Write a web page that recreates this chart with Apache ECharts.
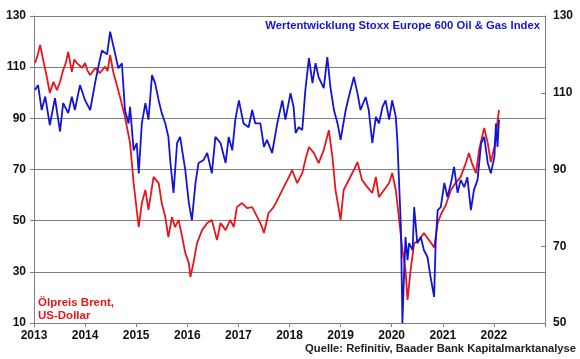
<!DOCTYPE html>
<html>
<head>
<meta charset="utf-8">
<script src="https://cdn.jsdelivr.net/npm/echarts@6/dist/echarts.min.js"></script>
<style>
html,body{margin:0;padding:0;background:#fff;}
#chart{width:580px;height:359px;}
</style>
</head>
<body>
<div id="chart"></div>
<script>
// Decimal-year dates and values
const brentDates = [2013.02,2013.07,2013.12,2013.18,2013.25,2013.31,2013.38,2013.45,2013.51,2013.57,2013.62,2013.67,2013.74,2013.79,2013.84,2013.94,2014.00,2014.05,2014.10,2014.20,2014.29,2014.39,2014.44,2014.49,2014.55,2014.62,2014.69,2014.78,2014.88,2014.95,2015.01,2015.05,2015.11,2015.18,2015.24,2015.34,2015.44,2015.50,2015.57,2015.63,2015.70,2015.76,2015.83,2015.90,2015.96,2016.03,2016.06,2016.12,2016.19,2016.29,2016.39,2016.48,2016.58,2016.65,2016.75,2016.84,2016.91,2016.97,2017.07,2017.17,2017.27,2017.37,2017.43,2017.46,2017.50,2017.59,2017.69,2017.79,2017.89,2017.99,2018.05,2018.15,2018.25,2018.31,2018.38,2018.48,2018.57,2018.67,2018.77,2018.84,2018.90,2019.00,2019.06,2019.16,2019.26,2019.33,2019.42,2019.52,2019.62,2019.69,2019.75,2019.85,2019.95,2020.01,2020.08,2020.14,2020.21,2020.27,2020.31,2020.37,2020.44,2020.54,2020.63,2020.73,2020.83,2020.90,2020.96,2021.06,2021.16,2021.25,2021.35,2021.45,2021.51,2021.57,2021.65,2021.71,2021.81,2021.88,2021.94,2022.01,2022.05,2022.10];
const brentValues = [111.6,114.5,118.7,112.8,106.3,99.9,104.3,101,104.3,108.9,111.5,116,108.2,113,111.6,109.7,111.6,108.5,106.9,109.7,107.7,110.2,108.5,114.8,108.2,103,97.8,90.6,80.3,64.7,54.2,47.5,56.9,62,54.2,67.1,64.7,56.9,51.4,43.6,51.4,47.5,50.3,43.6,37.4,33.4,28,33.4,41.2,46.3,49.1,50.3,42.4,49.1,46.3,50.3,47.5,55.3,56.9,54.9,55.3,51.4,49.1,47.5,45.2,53,55.3,59.2,63.2,67.1,69.8,64.7,68.6,73.7,78.8,76.4,72.5,77.6,85.4,74.9,62,50.3,62,65.9,69.8,72.9,65.9,63.2,60.8,67.1,59.2,62,64.7,68.6,62,51.4,38.5,30.7,19,30.7,41.2,42.4,45.2,42.4,39.5,49.1,52.3,56.2,62,64.7,67.1,72.5,76.4,72.5,68.6,77.6,86.2,80.3,72.9,78.8,85.4,93.3];

const stoxxDates = [2013.02,2013.08,2013.15,2013.22,2013.31,2013.41,2013.51,2013.57,2013.67,2013.74,2013.80,2013.90,2014.00,2014.10,2014.20,2014.27,2014.33,2014.43,2014.49,2014.59,2014.65,2014.72,2014.78,2014.85,2014.88,2014.95,2015.01,2015.05,2015.11,2015.18,2015.24,2015.31,2015.37,2015.44,2015.50,2015.57,2015.63,2015.67,2015.73,2015.80,2015.86,2015.90,2015.96,2016.03,2016.09,2016.16,2016.22,2016.32,2016.39,2016.48,2016.55,2016.65,2016.75,2016.81,2016.88,2016.94,2017.01,2017.10,2017.20,2017.27,2017.33,2017.43,2017.50,2017.56,2017.66,2017.76,2017.86,2017.92,2018.02,2018.08,2018.12,2018.18,2018.25,2018.31,2018.38,2018.45,2018.51,2018.57,2018.67,2018.74,2018.80,2018.87,2018.94,2019.00,2019.10,2019.16,2019.26,2019.33,2019.39,2019.49,2019.55,2019.62,2019.69,2019.75,2019.82,2019.88,2019.95,2020.01,2020.08,2020.11,2020.14,2020.18,2020.21,2020.24,2020.27,2020.31,2020.34,2020.41,2020.44,2020.50,2020.57,2020.63,2020.70,2020.76,2020.83,2020.86,2020.90,2020.96,2021.03,2021.09,2021.16,2021.22,2021.29,2021.35,2021.42,2021.48,2021.55,2021.61,2021.68,2021.75,2021.81,2021.88,2021.94,2022.01,2022.04,2022.07,2022.10];
const stoxxValues = [110.7,112,105.5,109,101.6,108.6,99.9,107.3,104.7,109,105.5,112,108,105.5,112.9,117.5,121,120,125.9,120,116.4,117.7,105.5,102,106.3,95,96.9,89,102,107.3,103,114.6,112.5,108,104.7,102,98.5,91.7,83.9,96.9,98.5,95,89.9,81.3,76.8,86.5,91.7,92.5,94.3,89,98.5,96.9,91.7,98.5,95,103,108,102,101,105.5,102,102,95.9,97.7,94.3,102,108,103,109.9,106.3,99.5,101,100.3,110.7,119,112.5,117.7,114.1,111.2,119.3,111.5,105.5,102,97.7,105.5,108.9,114.1,109.9,105.5,108.9,105.5,96.9,103.7,102,106.3,108,103,108,103.7,97.7,88,75,50,62,72.4,66.4,70.8,69,80.2,70.8,72.4,69,67.2,62,56.8,70.8,79.4,80.2,86.5,82.8,86.5,90.7,83.9,87.3,85.4,88,79.4,84.7,87.3,96.9,98.5,91.7,89,93.3,102,95.9,103];

const yearLabels = ['2013','2014','2015','2016','2017','2018','2019','2020','2021','2022'];
const leftTicks = {min:10, max:130, step:20};
const rightTicks = {min:50, max:130, step:20};

const RED = '#e8161c';
const BLUE = '#1414d8';
const FONT = 'Liberation Sans, Arial, sans-serif';

const chart = echarts.init(document.getElementById('chart'), null, {renderer:'canvas'});
const axisGray = '#7f7f7f';

chart.setOption({
  animation:false,
  backgroundColor:'#ffffff',
  grid:{left:34,right:35,top:16,bottom:36,containLabel:false},
  xAxis:{
    type:'value', min:2013, max:2023, interval:1,
    axisLine:{show:true,lineStyle:{color:axisGray,width:1}},
    axisTick:{show:true,length:4,lineStyle:{color:axisGray}},
    splitLine:{show:false},
    axisLabel:{
      margin:7, color:'#111', fontFamily:FONT, fontWeight:'bold', fontSize:12,
      formatter:v=>{const s=String(Math.round(v)); return yearLabels.indexOf(s)>=0?s:'';}
    }
  },
  yAxis:[
    {type:'value', min:leftTicks.min, max:leftTicks.max, interval:leftTicks.step, position:'left',
     axisLine:{show:true,lineStyle:{color:axisGray}},
     axisTick:{show:true,length:4,lineStyle:{color:axisGray}},
     splitLine:{show:true,lineStyle:{color:'#808080',width:1}},
     axisLabel:{margin:8,color:'#111',fontFamily:FONT,fontWeight:'bold',fontSize:12}},
    {type:'value', min:rightTicks.min, max:rightTicks.max, interval:rightTicks.step, position:'right',
     axisLine:{show:true,lineStyle:{color:axisGray}},
     axisTick:{show:true,inside:true,length:4,lineStyle:{color:axisGray}},
     splitLine:{show:false},
     axisLabel:{margin:8,color:'#111',fontFamily:FONT,fontWeight:'bold',fontSize:12}}
  ],
  series:[
    {type:'line', name:'Brent', yAxisIndex:0, showSymbol:false, symbol:'none',
     data:brentDates.map((d,i)=>[d,brentValues[i]]),
     lineStyle:{color:RED,width:1.8}, z:2},
    {type:'line', name:'Stoxx', yAxisIndex:1, showSymbol:false, symbol:'none',
     data:stoxxDates.map((d,i)=>[d,stoxxValues[i]]),
     lineStyle:{color:BLUE,width:1.8}, z:3}
  ],
  graphic:[
    {type:'text', right:40, top:20, style:{text:'Wertentwicklung Stoxx Europe 600 Oil & Gas Index', fill:BLUE, font:'bold 11.3px '+FONT}},
    {type:'text', left:38, top:296, style:{text:'Ölpreis Brent,\nUS-Dollar', fill:RED, font:'bold 11.5px '+FONT, lineHeight:13}},
    {type:'text', right:4, top:343, style:{text:'Quelle: Refinitiv, Baader Bank Kapitalmarktanalyse', fill:'#222', font:'bold 11.2px '+FONT}}
  ]
});
</script>
</body>
</html>
